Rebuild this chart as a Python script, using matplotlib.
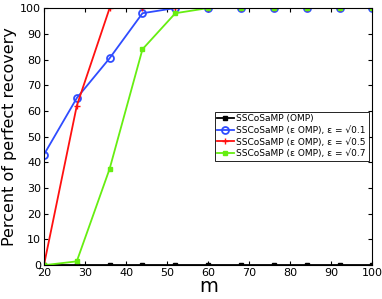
import numpy as np
import matplotlib
matplotlib.use('Agg')
import matplotlib.pyplot as plt

m = [20, 28, 36, 44, 52, 60, 68, 76, 84, 92, 100]
omp = [0, 0, 0, 0, 0, 0, 0, 0, 0, 0, 0]
eps_01 = [43, 65, 80.5, 98, 100, 100, 100, 100, 100, 100, 100]
eps_05 = [0, 62, 100, 100, 100, 100, 100, 100, 100, 100, 100]
eps_07 = [0, 1.5, 37.5, 84, 98, 100, 100, 100, 100, 100, 100]

labels = [
    'SSCoSaMP (OMP)',
    'SSCoSaMP (\u03b5 OMP), \u03b5 = \u221a0.1',
    'SSCoSaMP (\u03b5 OMP), \u03b5 = \u221a0.5',
    'SSCoSaMP (\u03b5 OMP), \u03b5 = \u221a0.7',
]


def run_main():
    fig, ax = plt.subplots(figsize=(3.82, 2.99), dpi=100)
    fig.subplots_adjust(left=0.115, right=0.975, top=0.973, bottom=0.113)

    ax.plot(m, omp, color='k', marker='s', markersize=2.5, lw=1.3, label=labels[0])
    ax.plot(m, eps_01, color='#2f4cff', marker='o', markersize=5, mfc='none',
            mew=1.3, lw=1.3, label=labels[1])
    ax.plot(m, eps_05, color='#ff1010', marker='+', markersize=5, lw=1.3, label=labels[2])
    ax.plot(m, eps_07, color='#66ee11', marker='s', markersize=3, lw=1.3, label=labels[3])

    ax.set_xlim(20, 100)
    ax.set_ylim(0, 100)
    ax.set_xticks(np.arange(20, 101, 10))
    ax.set_yticks(np.arange(0, 101, 10))
    ax.tick_params(labelsize=8, direction='in', length=3, pad=2,
                   top=True, right=True)
    ax.set_xlabel('m', fontsize=14, labelpad=-1)
    ax.set_ylabel('Percent of perfect recovery', fontsize=11.5, labelpad=2)

    leg = ax.legend(loc='lower right', bbox_to_anchor=(0.988, 0.405), fontsize=6.5,
                    fancybox=False, edgecolor='k', framealpha=1, handlelength=1.8,
                    borderpad=0.3, labelspacing=0.3, handletextpad=0.3,
                    borderaxespad=0.0)
    leg.get_frame().set_linewidth(0.6)

    fig.savefig('out.png', dpi=100)


if __name__ == "__main__":
    run_main()
